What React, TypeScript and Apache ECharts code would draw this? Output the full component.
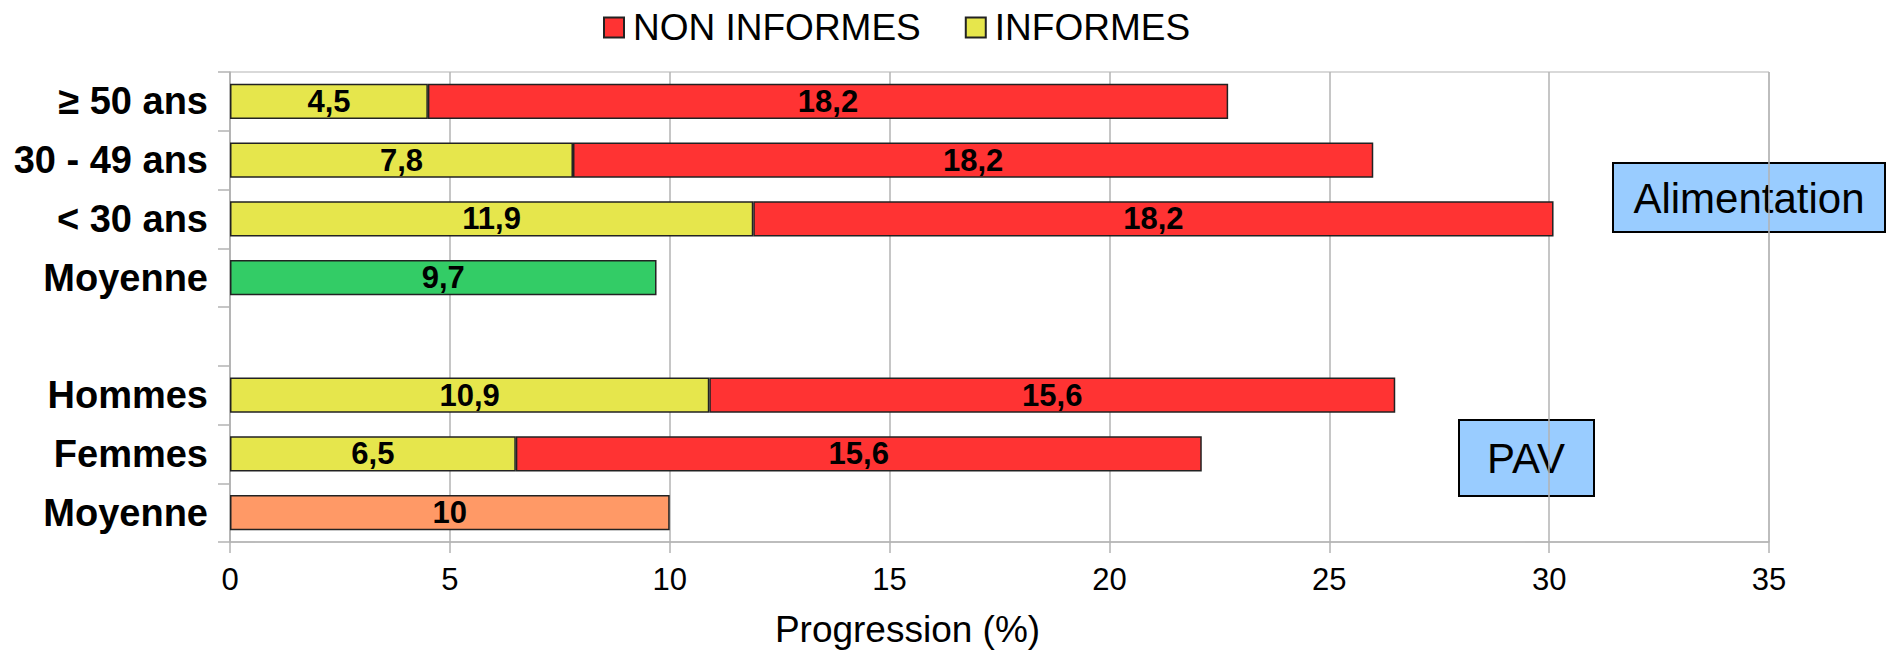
import React, { useEffect, useRef } from "react";
import * as echarts from "echarts";

// Rows, top to bottom (blank row separates the two groups)
const categories = ["≥ 50 ans", "30 - 49 ans", "< 30 ans", "Moyenne", "", "Hommes", "Femmes", "Moyenne"];
const informes = [4.5, 7.8, 11.9, "-", "-", 10.9, 6.5, "-"];
const nonInformes = [18.2, 18.2, 18.2, "-", "-", 15.6, 15.6, "-"];
const moyenne = ["-", "-", "-", 9.7, "-", "-", "-", 10];
const moyenneColors = ["", "", "", "#33cc66", "", "", "", "#ff9966"];
const xTicks = { min: 0, max: 35, interval: 5 };
const groupLabels = ["Alimentation", "PAV"];

const FONT = "Liberation Sans, Arial, sans-serif";
const GRID = "#b3b3b3";

const fmt = (v: number) => String(v).replace(".", ",");

export default function App() {
  const ref = useRef<HTMLDivElement>(null);

  useEffect(() => {
    document.body.style.margin = "0";
    const chart = echarts.init(ref.current!, null, { renderer: "svg" });

    const barLabel = {
      show: true,
      position: "inside" as const,
      color: "#000",
      fontFamily: FONT,
      fontWeight: "bold" as const,
      fontSize: 31,
      formatter: (p: any) => fmt(p.value),
    };
    const border = { borderColor: "#222", borderWidth: 1.5 };

    chart.setOption({
      animation: false,
      textStyle: { fontFamily: FONT },
      legend: {
        data: ["NON INFORMES", "INFORMES"],
        left: 598,
        top: 4,
        icon: "rect",
        itemWidth: 20,
        itemHeight: 20,
        itemGap: 44,
        textStyle: { fontSize: 37, color: "#000", fontFamily: FONT, padding: [0, 0, 0, 4] },
      },
      grid: {
        left: 230,
        right: 122,
        top: 72,
        bottom: 112,
        show: true,
        borderColor: GRID,
        borderWidth: 1,
      },
      xAxis: {
        type: "value",
        min: xTicks.min,
        max: xTicks.max,
        interval: xTicks.interval,
        name: "Progression (%)",
        nameLocation: "middle",
        nameGap: 69,
        nameTextStyle: { fontSize: 37, color: "#000", fontFamily: FONT, padding: [0, 184, 0, 0] },
        axisLine: { show: true, lineStyle: { color: GRID, width: 1.5 } },
        axisTick: { show: true, length: 11, lineStyle: { color: GRID, width: 1.5 } },
        axisLabel: { fontSize: 31, color: "#000", margin: 22, fontFamily: FONT },
        splitLine: { show: true, lineStyle: { color: GRID, width: 1.5 } },
      },
      yAxis: {
        type: "category",
        data: categories,
        inverse: true,
        axisLine: { show: true, lineStyle: { color: GRID, width: 1.5 } },
        axisTick: { show: true, length: 12, lineStyle: { color: GRID, width: 1.5 } },
        axisLabel: { fontSize: 38, fontWeight: "bold", color: "#000", margin: 22, fontFamily: FONT },
        splitLine: { show: false },
      },
      series: [
        {
          name: "INFORMES",
          type: "bar",
          stack: "total",
          barCategoryGap: "40%",
          data: informes,
          itemStyle: { color: "#e6e64c", ...border },
          label: barLabel,
        },
        {
          name: "NON INFORMES",
          type: "bar",
          stack: "total",
          barCategoryGap: "40%",
          data: nonInformes,
          itemStyle: { color: "#ff3333", ...border },
          label: barLabel,
        },
        {
          name: "Moyenne",
          type: "bar",
          stack: "total",
          barCategoryGap: "40%",
          data: moyenne.map((v, i) =>
            v === "-" ? "-" : { value: v, itemStyle: { color: moyenneColors[i] } }
          ),
          itemStyle: border,
          label: barLabel,
        },
      ],
      graphic: [
        {
          type: "group",
          left: 1612,
          top: 162,
          children: [
            {
              type: "rect",
              shape: { x: 0, y: 0, width: 272, height: 69 },
              style: { fill: "#99ccff", stroke: "#000", lineWidth: 2 },
            },
            {
              type: "text",
              x: 136,
              y: 35,
              style: {
                text: groupLabels[0],
                fontSize: 42,
                fontFamily: FONT,
                fill: "#000",
                align: "center",
                verticalAlign: "middle",
              },
            },
          ],
        },
        {
          type: "group",
          left: 1458,
          top: 419,
          children: [
            {
              type: "rect",
              shape: { x: 0, y: 0, width: 135, height: 76 },
              style: { fill: "#99ccff", stroke: "#000", lineWidth: 2 },
            },
            {
              type: "text",
              x: 67,
              y: 38,
              style: {
                text: groupLabels[1],
                fontSize: 42,
                fontFamily: FONT,
                fill: "#000",
                align: "center",
                verticalAlign: "middle",
              },
            },
          ],
        },
      ],
    });

    return () => chart.dispose();
  }, []);

  return <div ref={ref} style={{ width: 1891, height: 654 }} />;
}
